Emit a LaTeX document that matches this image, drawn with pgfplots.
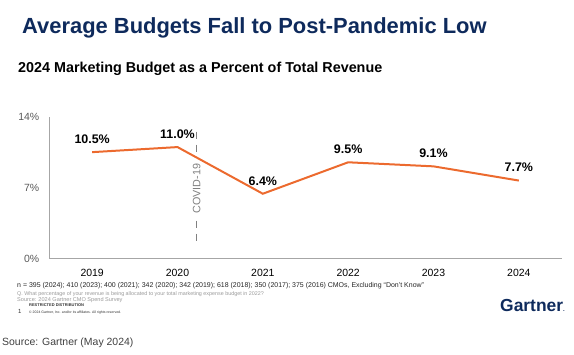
\documentclass[border=0pt]{standalone}
\usepackage{fontspec}
\setmainfont{Liberation Sans}
\usepackage{pgfplots}
\pgfplotsset{compat=1.18}
\definecolor{navy}{HTML}{0E2A5C}
\definecolor{orangeline}{HTML}{EC6A2E}
\definecolor{axisgray}{HTML}{A6A6A6}
\definecolor{labgray}{HTML}{595959}
\definecolor{covgray}{HTML}{808080}
\definecolor{notegray}{HTML}{9A9A9A}
\begin{document}
\begin{tikzpicture}[x=1bp,y=1bp]
\useasboundingbox (0,0) rectangle (574,-354);
\node[anchor=base west, inner sep=0, text=navy, font=\fontsize{22}{22}\selectfont\bfseries] at (22,-33) {Average Budgets Fall to Post-Pandemic Low};
\node[anchor=base west, inner sep=0, text=black, font=\fontsize{14.4}{14.4}\selectfont\bfseries] at (18,-72) {2024 Marketing Budget as a Percent of Total Revenue};
\begin{axis}[
  at={(58,-255)}, anchor=south west,
  scale only axis, width=512bp, height=142bp,
  xmin=-0.5, xmax=5.5, ymin=0, ymax=14,
  clip=false,
  axis lines=left,
  axis line style={-, draw=axisgray, line width=1.3bp},
  major tick length=0pt,
  xtick={0,1,2,3,4,5},
  xticklabels={2019,2020,2021,2022,2023,2024},
  ytick={0,7,14},
  yticklabels={0\%,7\%,14\%},
  xticklabel style={font=\fontsize{10.5}{10.5}\selectfont, text=black, inner sep=0pt, anchor=north, yshift=-10bp},
  yticklabel style={font=\fontsize{10.5}{10.5}\selectfont, text=labgray, inner sep=0pt, anchor=east, xshift=-10bp},
  nodes near coords={\pgfmathprintnumber[assume math mode=true,fixed,fixed zerofill,precision=1]{\pgfplotspointmeta}\%},
  nodes near coords style={font=\fontsize{12.5}{12.5}\selectfont\bfseries, text=black, anchor=south, inner sep=0pt, yshift=7.5bp},
]
\addplot[orangeline, line width=2bp, mark=none] coordinates {(0,10.5) (1,11.0) (2,6.4) (3,9.5) (4,9.1) (5,7.7)};
\draw[covgray, line width=1.3bp, dash pattern=on 7bp off 6bp] (axis cs:1.225,12.52) -- (axis cs:1.225,10.55);
\draw[covgray, line width=1.3bp, dash pattern=on 7bp off 6bp] (axis cs:1.225,3.75) -- (axis cs:1.225,1.65);
\node[rotate=90, inner sep=0pt, text=covgray, font=\fontsize{10.8}{10.8}\selectfont] at (axis cs:1.225,6.9) {COVID-19};
\end{axis}
\node[anchor=base west, inner sep=0, text=black!85, font=\fontsize{7}{7}\selectfont] at (17,-287.5) {n = 395 (2024); 410 (2023); 400 (2021); 342 (2020); 342 (2019); 618 (2018); 350 (2017); 375 (2016) CMOs, Excluding ``Don't Know''};
\node[anchor=base west, inner sep=0, text=notegray, font=\fontsize{5.4}{5.4}\selectfont] at (17,-295) {Q. What percentage of your revenue is being allocated to your total marketing expense budget in 2022?};
\node[anchor=base west, inner sep=0, text=notegray, font=\fontsize{5.6}{5.6}\selectfont] at (17,-301) {Source: 2024 Gartner CMO Spend Survey};
\node[anchor=base west, inner sep=0, text=black!80, font=\fontsize{4}{4}\selectfont\bfseries] at (29,-306.5) {RESTRICTED DISTRIBUTION};
\node[anchor=base west, inner sep=0, text=black!80, font=\fontsize{6}{6}\selectfont] at (18,-313) {1};
\node[anchor=base west, inner sep=0, text=black!80, font=\fontsize{3.5}{3.5}\selectfont] at (29,-313) {\textcopyright{} 2024 Gartner, Inc. and/or its affiliates. All rights reserved.};
\node[anchor=base west, inner sep=0, text=navy, font=\fontsize{17.5}{17.5}\selectfont\bfseries] at (500,-311) {Gartner{\fontsize{6}{6}\selectfont.}};
\node[anchor=base west, inner sep=0, text=black!75, font=\fontsize{10.5}{10.5}\selectfont] at (2,-345) {Source: Gartner (May 2024)};
\end{tikzpicture}
\end{document}
